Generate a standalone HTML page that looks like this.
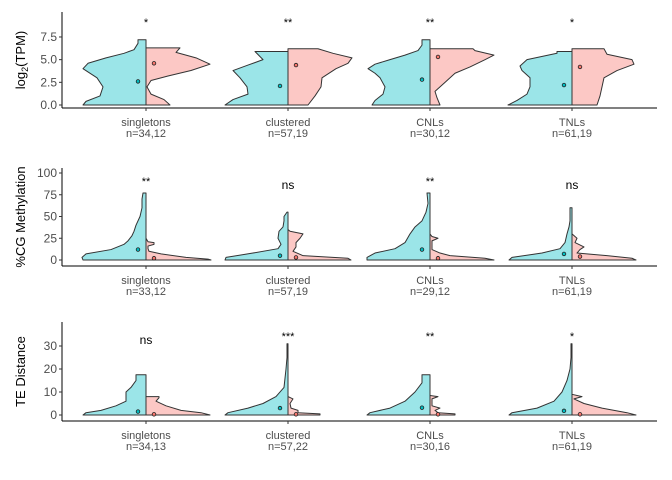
<!DOCTYPE html>
<html><head><meta charset="utf-8"><style>
body{margin:0;background:#fff}
svg{display:block;font-family:"Liberation Sans",sans-serif}
</style></head><body>
<svg id="chart" width="672" height="480"></svg>
<script>
const categories = ["singletons","clustered","CNLs","TNLs"];
const tpmLabels = ["n=34,12","n=57,19","n=30,12","n=61,19"];
const cgLabels = ["n=33,12","n=57,19","n=29,12","n=61,19"];
const teLabels = ["n=34,13","n=57,22","n=30,16","n=61,19"];
const tpmSig = ["*","**","**","*"];
const cgSig = ["**","ns","**","ns"];
const teSig = ["ns","***","**","*"];
const tpmTicks = [0,2.5,5,7.5];
const cgTicks = [0,25,50,75,100];
const teTicks = [0,10,20,30];
// density profiles: [value, density] for group A (cyan) and group B (pink)
const tpmA = [
 [[0,63],[0.4,60],[1,46],[2,43],[3,49],[4,63],[4.6,58],[5.2,40],[5.7,22],[6.1,12],[6.8,8],[7.2,8]],
 [[0,63],[0.6,55],[1.2,40],[2,41],[3,48],[3.8,55],[4.4,40],[5,25],[5.9,33]],
 [[0,58],[0.5,55],[1.2,47],[2,45],[3,50],[3.5,55],[4,62],[4.5,55],[5,40],[5.5,25],[6,12],[6.6,8],[7.2,8]],
 [[0,64],[0.5,55],[1.2,45],[2,42],[3,42],[3.8,50],[4.3,52],[5,45],[5.7,15],[5.9,15]]];
const tpmB = [
 [[0,24],[0.6,18],[1.2,5],[2,1],[2.7,5],[3.2,22],[3.8,45],[4.5,64],[5.2,50],[5.8,30],[6.3,34]],
 [[0,20],[1,27],[2,33],[3,34],[4,48],[4.6,60],[5.2,64],[5.7,45],[6.2,30]],
 [[0,10],[0.8,7],[1.5,5],[2.5,15],[3.5,25],[4.2,40],[5,55],[5.5,64],[6,45],[6.2,43]],
 [[0,25],[1,28],[2,30],[3,32],[3.8,45],[4.5,62],[5,60],[5.6,35],[6.2,32]]];
const tpmMeanA = [2.6,2.1,2.8,2.2];
const tpmMeanB = [4.6,4.4,5.3,4.2];
const cgA = [
 [[0,63],[3,64],[7,60],[12,35],[18,22],[22,18],[28,14],[33,12],[40,10],[50,6],[60,4],[70,4],[77,3]],
 [[0,63],[3,62],[8,35],[13,10],[18,7],[25,10],[33,9],[38,5],[45,4],[50,4],[55,1]],
 [[0,63],[3,63],[8,55],[13,35],[20,25],[30,20],[38,15],[45,8],[55,4],[65,2],[77,3]],
 [[0,63],[3,60],[8,30],[13,12],[20,7],[30,5],[38,3],[45,2],[55,2],[60,2]]];
const cgB = [
 [[0,65],[1,62],[3,40],[7,15],[10,3],[13,2],[16,2],[18,8],[20,8],[21,2],[25,0]],
 [[0,63],[2,60],[5,15],[10,5],[15,8],[20,8],[25,12],[30,15],[33,2],[35,0]],
 [[0,64],[2,55],[5,20],[8,10],[12,2],[18,2],[22,2],[25,8],[27,2],[30,0]],
 [[0,64],[2,60],[5,35],[8,5],[12,8],[15,12],[20,3],[25,5],[27,3],[30,0]]];
const cgMeanA = [12,5,12,7];
const cgMeanB = [2,3,2,4];
const teA = [
 [[0,63],[1,60],[2,45],[4,30],[6,20],[10,20],[12,15],[15,10],[17.5,10]],
 [[0,63],[1,60],[3,40],[5,25],[8,12],[12,4],[16,3],[20,2],[25,1],[31,1]],
 [[0,63],[1,60],[3,40],[6,25],[10,15],[14,8],[17.5,8]],
 [[0,63],[1,60],[3,35],[6,18],[10,10],[15,5],[20,2],[25,1],[31,1]]];
const teB = [
 [[0,64],[1,55],[2,35],[4,20],[6,10],[7.5,13],[8,13]],
 [[0,32],[0.5,32],[1,10],[2,10],[3,3],[5,2],[7,5],[8,0]],
 [[0,25],[0.5,25],[1,8],[2,5],[3,10],[4,2],[7,2],[8,8],[8.5,0]],
 [[0,64],[1,55],[3,30],[5,12],[7,2],[8,10],[9,0]]];
const teMeanA = [1.5,3,3.2,1.8];
const teMeanB = [0.3,0.3,0.3,0.3];

const NS="http://www.w3.org/2000/svg";
const svg=document.getElementById('chart');
function mk(tag,attrs,parent){const e=document.createElementNS(NS,tag);for(const k in attrs)e.setAttribute(k,attrs[k]);(parent||svg).appendChild(e);return e;}
const xPos=i=>146+i*142;
function panel(cfg){
  const g=mk('g',{});
  
  
  const y=v=>cfg.y0-(v-0)*cfg.k;
  const yl=mk('line',{x1:62,x2:62,y1:cfg.top,y2:cfg.bot,stroke:'#000','stroke-width':1},g);
  
  
  const xl=mk('line',{x1:62,x2:657,y1:cfg.bot,y2:cfg.bot,stroke:'#000','stroke-width':1},g);
  
  
  cfg.ticks.forEach(t=>{
    mk('line',{x1:59,x2:62,y1:y(t),y2:y(t),stroke:'#333'},g);
    const tx=mk('text',{x:57,y:y(t)+4,'text-anchor':'end','font-size':12,fill:'#4d4d4d'},g);
    tx.textContent=cfg.fmt(t);
    
    
  });
  const cy=(cfg.top+cfg.bot)/2;
  const tt=mk('text',{x:0,y:0,transform:`translate(25,${cy}) rotate(-90)`,'text-anchor':'middle','font-size':13,fill:'#000'},g);
  if(cfg.titleSub){tt.innerHTML='log<tspan font-size="9" dy="3">2</tspan><tspan dy="-3">(TPM)</tspan>';}
  else tt.textContent=cfg.title;
  
  
  categories.forEach((c,i)=>{
    const cx=xPos(i);
    mk('line',{x1:cx,x2:cx,y1:cfg.bot,y2:cfg.bot+3,stroke:'#333'},g);
    const l1=mk('text',{x:cx,y:cfg.bot+18,'text-anchor':'middle','font-size':11,fill:'#4d4d4d'},g);
    l1.textContent=c;
    
    
    const l2=mk('text',{x:cx,y:cfg.bot+29,'text-anchor':'middle','font-size':11,fill:'#4d4d4d'},g);
    l2.textContent=cfg.labels[i];
    
    
    [[cfg.A[i],-1,'#9be5e8','violin-group-a'],[cfg.B[i],1,'#fcc8c5','violin-group-b']].forEach(([prof,dir,col,nm])=>{
      let d=`M${cx},${y(prof[0][0])}`;
      prof.forEach(p=>{d+=` L${cx+dir*p[1]},${y(p[0])}`;});
      d+=` L${cx},${y(prof[prof.length-1][0])} Z`;
      const p=mk('path',{d:d,fill:col,stroke:'#333','stroke-width':1,'stroke-linejoin':'round'},g);
      
      
    });
    const pa=mk('circle',{cx:cx-8,cy:y(cfg.mA[i]),r:1.8,fill:'#00bfc4',stroke:'#222','stroke-width':0.8},g);
    
    
    const pb=mk('circle',{cx:cx+8,cy:y(cfg.mB[i]),r:1.8,fill:'#f8766d',stroke:'#222','stroke-width':0.8},g);
    
    
    const s=cfg.sig[i];
    const st=mk('text',{x:cx,y:s==='ns'?cfg.sigY+4:cfg.sigY,'text-anchor':'middle','font-size':s==='ns'?12:11,fill:'#000'},g);
    st.textContent=s;
    
    
  });
}
panel({name:'tpm-panel',top:12,bot:108,y0:105,k:9.07,ticks:tpmTicks,fmt:t=>t.toFixed(1),titleSub:true,labels:tpmLabels,A:tpmA,B:tpmB,mA:tpmMeanA,mB:tpmMeanB,sig:tpmSig,sigY:26});
panel({name:'cg-methylation-panel',top:168,bot:266,y0:260,k:0.87,ticks:cgTicks,fmt:t=>String(t),title:'%CG Methylation',labels:cgLabels,A:cgA,B:cgB,mA:cgMeanA,mB:cgMeanB,sig:cgSig,sigY:185});
panel({name:'te-distance-panel',top:322,bot:421,y0:415,k:2.3,ticks:teTicks,fmt:t=>String(t),title:'TE Distance',labels:teLabels,A:teA,B:teB,mA:teMeanA,mB:teMeanB,sig:teSig,sigY:340});
</script>
</body></html>
